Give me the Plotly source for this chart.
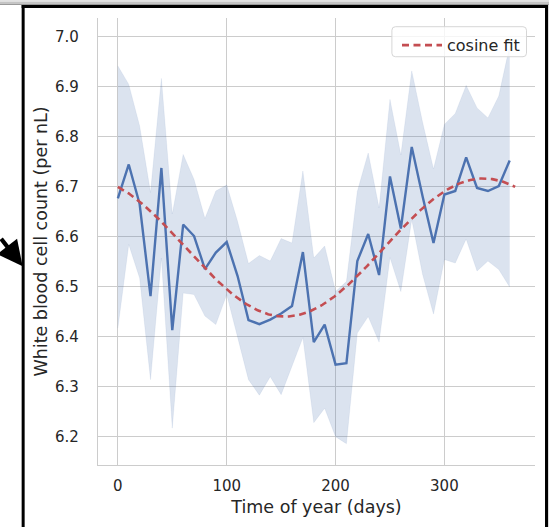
import numpy as np
import plotly.graph_objects as go

# Day of year (10-day bins)
days = list(range(0, 361, 10))

# Mean white blood cell count per bin (per nL)
wbc_mean = [6.676, 6.744, 6.665, 6.481, 6.737, 6.413, 6.624, 6.601, 6.535, 6.568,
            6.589, 6.521, 6.433, 6.425, 6.434, 6.446, 6.461, 6.569, 6.389, 6.424,
            6.344, 6.347, 6.551, 6.605, 6.523, 6.720, 6.616, 6.779, 6.680, 6.587,
            6.684, 6.691, 6.758, 6.697, 6.691, 6.701, 6.752]

# Confidence interval bounds
wbc_upper = [6.941, 6.904, 6.821, 6.688, 6.916, 6.645, 6.764, 6.714, 6.636, 6.691,
             6.703, 6.630, 6.546, 6.562, 6.551, 6.596, 6.587, 6.731, 6.557, 6.581,
             6.490, 6.510, 6.690, 6.767, 6.657, 6.874, 6.763, 6.931, 6.828, 6.735,
             6.824, 6.846, 6.902, 6.857, 6.837, 6.881, 6.981]
wbc_lower = [6.417, 6.584, 6.517, 6.314, 6.557, 6.217, 6.487, 6.484, 6.441, 6.424,
             6.484, 6.400, 6.314, 6.283, 6.320, 6.284, 6.341, 6.398, 6.228, 6.257,
             6.200, 6.186, 6.407, 6.440, 6.389, 6.558, 6.490, 6.634, 6.524, 6.445,
             6.554, 6.547, 6.595, 6.531, 6.551, 6.534, 6.499]

# Cosine fit parameters (annual period)
FIT_BASELINE = 6.578
FIT_AMPLITUDE = 0.138
FIT_PEAK_DAY = 336.0
FIT_PERIOD = 365.0

y_ticks = [6.2, 6.3, 6.4, 6.5, 6.6, 6.7, 6.8, 6.9, 7.0]
x_ticks = [0, 100, 200, 300]

fit_days = np.arange(0, 366)
fit_vals = FIT_BASELINE + FIT_AMPLITUDE * np.cos(2 * np.pi * (fit_days - FIT_PEAK_DAY) / FIT_PERIOD)

BLUE = "#4c72b0"
RED = "#c44e52"
TEXT = "#262626"
GRID = "#cccccc"
FONT = "DejaVu Sans"

W, H = 549, 527
ML, MR, MT, MB = 98.3, 14.0, 18.3, 62.0
PW, PH = W - ML - MR, H - MT - MB


def px_x(p):
    return (p - ML) / PW


def px_y(p):
    return (H - MB - p) / PH


def rounded_box(x0, y0, x1, y1, r):
    """SVG path (paper coords) for a rounded rectangle given in pixels."""
    rx, ry = r / PW, r / PH
    a, b, c, d = px_x(x0), px_x(x1), px_y(y1), px_y(y0)
    return (f"M{a + rx},{c} L{b - rx},{c} Q{b},{c} {b},{c + ry} L{b},{d - ry} Q{b},{d} {b - rx},{d} "
            f"L{a + rx},{d} Q{a},{d} {a},{d - ry} L{a},{c + ry} Q{a},{c} {a + rx},{c} Z")


fig = go.Figure()

fig.add_trace(go.Scatter(x=days, y=wbc_upper, mode="lines", line=dict(width=0.6, color="rgba(76,114,176,0.15)"),
                         showlegend=False, hoverinfo="skip"))
fig.add_trace(go.Scatter(x=days, y=wbc_lower, mode="lines", line=dict(width=0.6, color="rgba(76,114,176,0.15)"),
                         fill="tonexty", fillcolor="rgba(76,114,176,0.2)", showlegend=False, hoverinfo="skip"))
fig.add_trace(go.Scatter(x=days, y=wbc_mean, mode="lines", line=dict(width=2.4, color=BLUE),
                         showlegend=False))
fig.add_trace(go.Scatter(x=fit_days, y=fit_vals, mode="lines", name="cosine fit",
                         line=dict(width=2.6, color=RED, dash="7px,4.5px")))

shapes = []
# legend frame
shapes.append(dict(type="path", xref="paper", yref="paper", layer="above",
                   path=rounded_box(392, 27, 526.5, 57, 3.5),
                   fillcolor="rgba(255,255,255,0.8)", line=dict(width=1, color="#d6d6d6")))
# page frame around the figure
shapes.append(dict(type="rect", xref="paper", yref="paper", layer="above",
                   x0=px_x(0), x1=px_x(W), y0=px_y(0), y1=px_y(2), line=dict(width=0), fillcolor="#e2e2e2"))
shapes.append(dict(type="rect", xref="paper", yref="paper", layer="above",
                   x0=px_x(0), x1=px_x(W), y0=px_y(2), y1=px_y(4), line=dict(width=0), fillcolor="#c4c4c4"))
shapes.append(dict(type="rect", xref="paper", yref="paper", layer="above",
                   x0=px_x(0), x1=px_x(W), y0=px_y(4), y1=px_y(5.2), line=dict(width=0), fillcolor="#9a9a9a"))
shapes.append(dict(type="rect", xref="paper", yref="paper", layer="above",
                   x0=px_x(548), x1=px_x(W), y0=px_y(5), y1=px_y(H), line=dict(width=0), fillcolor="#dddddd"))
shapes.append(dict(type="line", xref="paper", yref="paper", layer="above",
                   x0=px_x(23.5), x1=px_x(23.5), y0=px_y(5.2), y1=px_y(H + 5), line=dict(width=3, color="black")))
shapes.append(dict(type="line", xref="paper", yref="paper", layer="above",
                   x0=px_x(546.5), x1=px_x(546.5), y0=px_y(5.2), y1=px_y(H + 5), line=dict(width=3, color="black")))
shapes.append(dict(type="line", xref="paper", yref="paper", layer="above",
                   x0=px_x(22), x1=px_x(548), y0=px_y(6.7), y1=px_y(6.7), line=dict(width=3, color="black")))

fig.update_layout(
    width=W, height=H, autosize=False,
    margin=dict(l=ML, r=MR, t=MT, b=MB, pad=0),
    paper_bgcolor="white", plot_bgcolor="white",
    font=dict(family=FONT, color=TEXT, size=15),
    shapes=shapes,
    legend=dict(x=px_x(525), y=px_y(28.5), xanchor="right", yanchor="top", itemwidth=40,
                bgcolor="rgba(0,0,0,0)", borderwidth=0,
                font=dict(family=FONT, size=16, color=TEXT)),
    annotations=[dict(xref="paper", yref="paper", x=px_x(23), y=px_y(266.5), ax=-42, ay=-29,
                      showarrow=True, arrowhead=2, arrowsize=1.2, arrowwidth=4.2, arrowcolor="black", text="")],
)

fig.update_xaxes(range=[-18.25, 383.25], tickvals=x_ticks, showgrid=True, gridcolor=GRID, gridwidth=1.3,
                 showline=True, linecolor=GRID, linewidth=1.3, zeroline=False, ticks="",
                 tickfont=dict(size=15, color=TEXT), ticklabelstandoff=7,
                 title=dict(text="Time of year (days)", font=dict(size=17.5, color=TEXT), standoff=6))
fig.update_yaxes(range=[6.1434, 7.0367], tickvals=y_ticks, tickformat=".1f", showgrid=True, gridcolor=GRID,
                 gridwidth=1.3, showline=True, linecolor=GRID, linewidth=1.3, zeroline=False, ticks="",
                 tickfont=dict(size=15, color=TEXT), ticklabelstandoff=15,
                 title=dict(text="White blood cell count (per nL)", font=dict(size=17.5, color=TEXT), standoff=2))

fig.write_html("out.html")
